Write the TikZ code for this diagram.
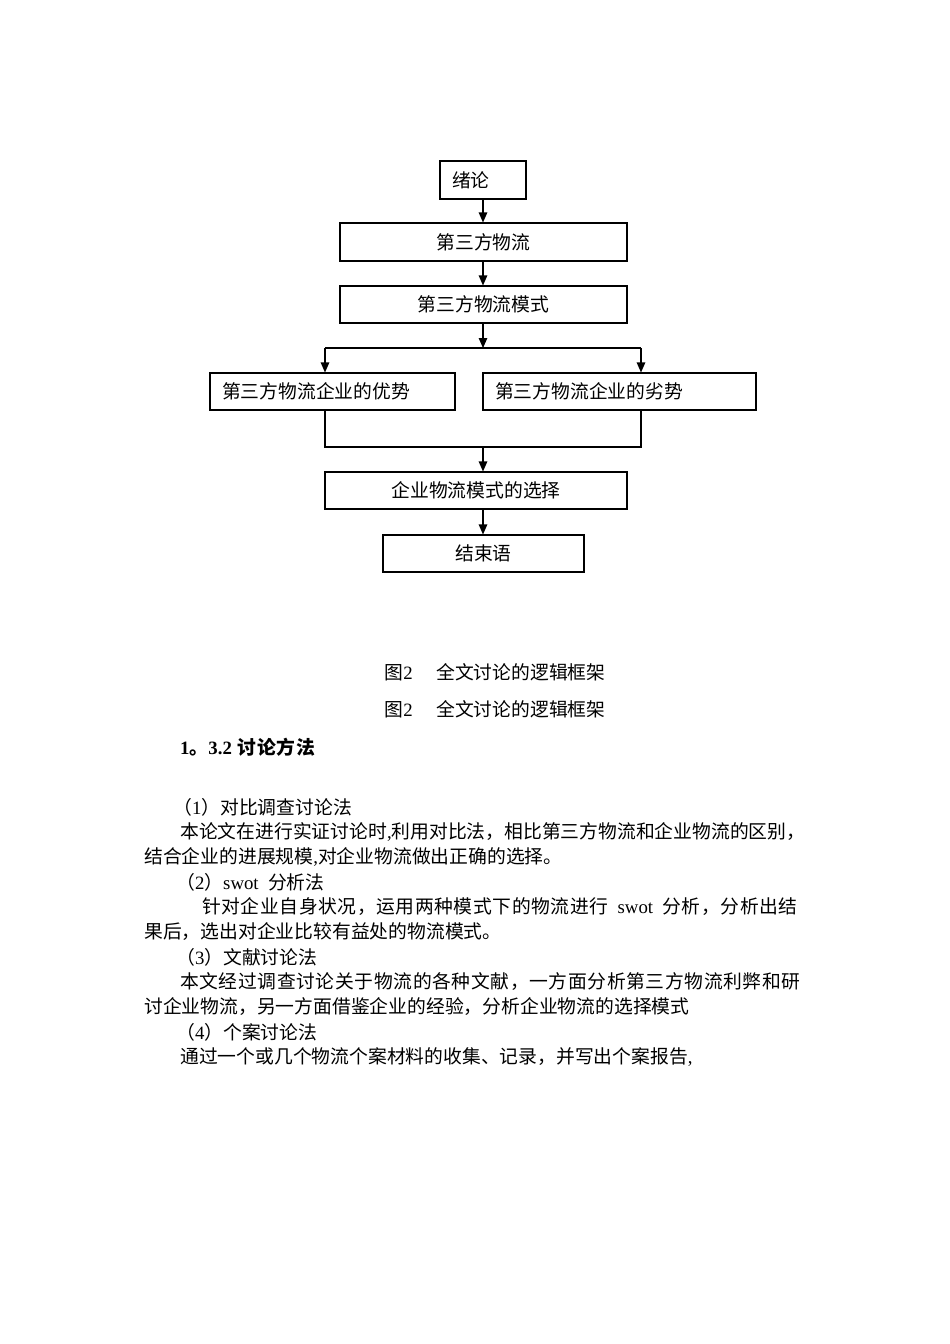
\documentclass[tikz,border=0pt]{standalone}
\usepackage{fontspec}
\newfontfamily\cjk{Noto Sans CJK SC}
\newfontfamily\lser{Liberation Serif}
\newcommand{\hw}[1]{{\lser #1}}
\usetikzlibrary{arrows.meta}
\begin{document}
\begin{tikzpicture}[x=1pt,y=-1pt,
  box/.style={draw,line width=1.1pt,rectangle,inner sep=0pt,font=\cjk\fontsize{18.8}{22}\selectfont},
  lbox/.style={box,align=left,inner xsep=12pt},
  arr/.style={line width=1.1pt,-{Triangle[length=10pt,width=8.5pt]}},
  ln/.style={line width=1.1pt},
  txt/.style={anchor=west,inner sep=0pt,font=\cjk\fontsize{18.8}{22}\selectfont},
  captxt/.style={anchor=center,inner sep=0pt,font=\cjk\fontsize{18.8}{22}\selectfont}]
\useasboundingbox (0,0) rectangle (950,1344);
\fill[white] (0,0) rectangle (950,1344);
% boxes
\node[lbox,minimum width=86pt,minimum height=38pt,text width=62pt] (xl) at (483,180) {绪论};
\node[box,minimum width=287pt,minimum height=38pt] (d1) at (483.5,242) {第三方物流};
\node[box,minimum width=287pt,minimum height=37pt] (d2) at (483.5,304.5) {第三方物流模式};
\node[lbox,minimum width=245pt,minimum height=37pt,text width=221pt] (adv) at (332.5,391.5) {第三方物流企业的优势};
\node[lbox,minimum width=273pt,minimum height=37pt,text width=249pt] (dis) at (619.5,391.5) {第三方物流企业的劣势};
\node[box,minimum width=302pt,minimum height=37pt] (sel) at (476,490.5) {企业物流模式的选择};
\node[box,minimum width=201pt,minimum height=37pt] (end) at (483.5,553.5) {结束语};
% coordinates
\coordinate (sm) at (483,348);
\coordinate (sl) at (325,348);
\coordinate (sr) at (641,348);
\coordinate (jm) at (483,447);
\coordinate (jl) at (325,447);
\coordinate (jr) at (641,447);
% connectors
\draw[arr] (xl.south) -- (d1.north -| xl.south);
\draw[arr] (d1.south -| xl.south) -- (d2.north -| xl.south);
\draw[arr] (d2.south -| sm) -- (sm);
\draw[ln] (sl) -- (sr);
\draw[arr] (sl) -- (sl |- adv.north);
\draw[arr] (sr) -- (sr |- dis.north);
\draw[ln] (jl |- adv.south) -- (jl) -- (jr) -- (jr |- dis.south);
\draw[arr] (jm) -- (jm |- sel.north);
\draw[arr] (jm |- sel.south) -- (jm |- end.north);
% captions
\node[captxt] (c1) at (495,672) {图\hw{2}\hspace{1.25em}全文讨论的逻辑框架};
\node[captxt] (c2) at (495,709) {图\hw{2}\hspace{1.25em}全文讨论的逻辑框架};
\node[txt,font=\cjk\bfseries\fontsize{18.8}{22}\selectfont] (h) at (180,747) {{\lser\bfseries 1}。{\lser\bfseries 3.2}\hspace{0.3em}{\addfontfeature{LetterSpace=4}讨论方法}};
% body text
\node[txt] (t1) at (173,807) {（\hw{1}）对比调查讨论法};
\node[txt] (t2) at (180,832) {本论文在进行实证讨论时\hw{,}利用对比法，相比第三方物流和企业物流的区别，};
\node[txt] (t3) at (144,857) {结合企业的进展规模\hw{,}对企业物流做出正确的选择。};
\node[txt] (t4) at (176,882) {（\hw{2}）\hw{swot}\hspace{0.5em}分析法};
\node[txt] (t5) at (202,907) {\addfontfeature{LetterSpace=3}针对企业自身状况，运用两种模式下的物流进行\hspace{0.5em}\hw{swot}\hspace{0.5em}分析，分析出结};
\node[txt] (t6) at (144,932) {果后，选出对企业比较有益处的物流模式。};
\node[txt] (t7) at (176,957) {（\hw{3}）文献讨论法};
\node[txt] (t8) at (180,982) {\addfontfeature{LetterSpace=3.2}本文经过调查讨论关于物流的各种文献，一方面分析第三方物流利弊和研};
\node[txt] (t9) at (144,1007) {讨企业物流，另一方面借鉴企业的经验，分析企业物流的选择模式};
\node[txt] (t10) at (176,1032) {（\hw{4}）个案讨论法};
\node[txt] (t11) at (180,1057) {通过一个或几个物流个案材料的收集、记录，并写出个案报告\hw{,}};
\end{tikzpicture}
\end{document}
